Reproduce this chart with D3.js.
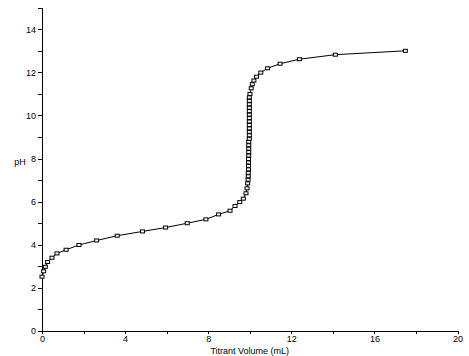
<!DOCTYPE html>
<html>
<head>
<meta charset="utf-8">
<script src="https://cdn.jsdelivr.net/npm/d3@7"></script>
<style>
  html, body { margin: 0; padding: 0; background: #fff; }
  svg { display: block; }
  text { font-family: "Liberation Sans", Arial, sans-serif; fill: #000; }
</style>
</head>
<body>
<svg id="chart" width="469" height="356"></svg>
<script>
// Titrant volume (mL)
const volume = [
  0.00, 0.08, 0.16, 0.27, 0.48, 0.72, 1.16, 1.78, 2.63, 3.62,
  4.84, 5.95, 6.99, 7.89, 8.50, 9.05, 9.29, 9.52, 9.69, 9.82,
  9.87, 9.90, 9.92, 9.93, 9.93, 9.94, 9.94, 9.94, 9.94, 9.95,
  9.95, 9.95, 9.95, 9.95,
  9.98, 9.98, 9.98, 9.98, 9.98, 9.98, 9.98, 9.98, 9.98, 9.98,
  9.98, 9.98, 9.98,
  10.01, 10.07, 10.12, 10.20, 10.33, 10.53, 10.86, 11.46, 12.39,
  14.12, 17.49
];
// pH readings
const pH = [
  2.52, 2.77, 2.98, 3.20, 3.40, 3.60, 3.77, 3.99, 4.20, 4.42,
  4.62, 4.80, 5.00, 5.18, 5.41, 5.58, 5.80, 5.98, 6.14, 6.39,
  6.62, 6.85, 7.02, 7.18, 7.34, 7.50, 7.66, 7.82, 7.98, 8.14,
  8.30, 8.46, 8.62, 8.78,
  8.92, 9.08, 9.24, 9.40, 9.56, 9.72, 9.88, 10.04, 10.20, 10.36,
  10.52, 10.68, 10.84,
  11.00, 11.26, 11.45, 11.62, 11.80, 11.99, 12.19, 12.40, 12.61,
  12.82, 13.00
];
const xTicks = [0, 2, 4, 6, 8, 10, 12, 14, 16, 18, 20];
const xTickLabels = ["0", "", "4", "", "8", "", "12", "", "16", "", "20"];
const yTicks = [0, 1, 2, 3, 4, 5, 6, 7, 8, 9, 10, 11, 12, 13, 14, 15];
const yTickLabels = ["0", "", "2", "", "4", "", "6", "", "8", "", "10", "", "12", "", "14", ""];
const xTitle = "Titrant Volume (mL)";
const yTitle = "pH";

const svg = d3.select("#chart");
const x = d3.scaleLinear().domain([0, 20]).range([42, 457.5]);
const y = d3.scaleLinear().domain([0, 15]).range([331, 7.7]);

const xAxis = d3.axisBottom(x)
  .tickValues(xTicks)
  .tickFormat((d, i) => xTickLabels[i])
  .tickSize(3).tickSizeOuter(0).tickPadding(2);
const yAxis = d3.axisLeft(y)
  .tickValues(yTicks)
  .tickFormat((d, i) => yTickLabels[i])
  .tickSize(4).tickSizeOuter(0).tickPadding(2);

const gx = svg.append("g").attr("transform", "translate(0,331)").call(xAxis);
const gy = svg.append("g").attr("transform", "translate(42,0)").call(yAxis);
[gx, gy].forEach(g => {
  g.selectAll("path.domain").attr("stroke", "#000").attr("stroke-width", 1).attr("shape-rendering", "crispEdges");
  g.selectAll(".tick line").attr("stroke", "#000").attr("shape-rendering", "crispEdges");
  g.selectAll(".tick text").attr("font-size", 9).attr("font-family", "Liberation Sans, Arial, sans-serif").attr("fill", "#000");
});

svg.append("text")
  .attr("x", (x.range()[0] + x.range()[1]) / 2)
  .attr("y", 354)
  .attr("text-anchor", "middle")
  .attr("font-size", 9)
  .text(xTitle);

svg.append("text")
  .attr("x", 20)
  .attr("y", 165)
  .attr("text-anchor", "middle")
  .attr("font-size", 9)
  .text(yTitle);

const data = volume.map((v, i) => ({ v, p: pH[i] }));

svg.append("path")
  .datum(data)
  .attr("fill", "none")
  .attr("stroke", "#000")
  .attr("stroke-width", 1)
  .attr("d", d3.line().x(d => x(d.v)).y(d => y(d.p)));

svg.append("g").selectAll("rect")
  .data(data)
  .join("rect")
  .attr("x", d => x(d.v) - 2)
  .attr("y", d => y(d.p) - 1.5)
  .attr("width", 4)
  .attr("height", 3)
  .attr("fill", "#fff")
  .attr("stroke", "#000")
  .attr("stroke-width", 1);
</script>
</body>
</html>
